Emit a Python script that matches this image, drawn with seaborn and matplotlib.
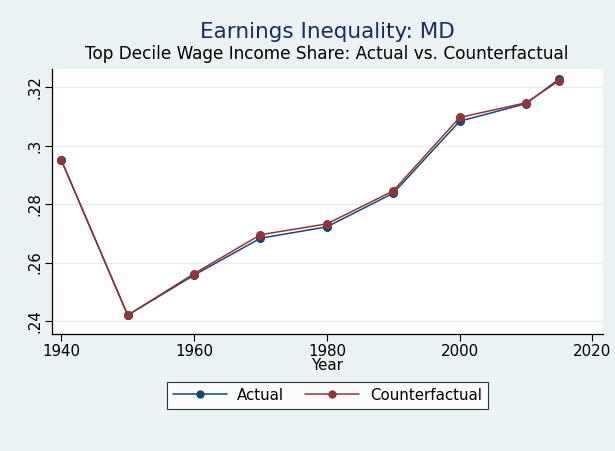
import pandas as pd
import matplotlib.pyplot as plt
import matplotlib.ticker as mticker
import seaborn as sns

# Data
years = [1940, 1950, 1960, 1970, 1980, 1990, 2000, 2010, 2015]
actual = [0.2950, 0.2420, 0.2557, 0.2683, 0.2722, 0.2837, 0.3083, 0.3143, 0.3228]
counterfactual = [0.2950, 0.2420, 0.2562, 0.2695, 0.2732, 0.2845, 0.3096, 0.3146, 0.3222]
series_names = ["Actual", "Counterfactual"]
y_ticks = [0.24, 0.26, 0.28, 0.30, 0.32]
x_ticks = [1940, 1960, 1980, 2000, 2020]

df = pd.DataFrame({
    "Year": years * 2,
    "share": actual + counterfactual,
    "series": [series_names[0]] * len(years) + [series_names[1]] * len(years),
})

bg = "#eaf2f3"
navy = "#1a476f"
maroon = "#90353b"

sns.set_style("white")
plt.rcParams["font.family"] = ["DejaVu Sans"]
plt.rcParams["text.color"] = "black"
plt.rcParams["axes.labelcolor"] = "black"
plt.rcParams["xtick.color"] = "black"
plt.rcParams["ytick.color"] = "black"

fig = plt.figure(figsize=(6.15, 4.51), dpi=100, facecolor=bg)
ax = fig.add_axes([0.0846, 0.259, 0.896, 0.587])
ax.set_facecolor("white")

sns.lineplot(data=df, x="Year", y="share", hue="series", palette=[navy, maroon],
             marker="o", markersize=6.5, markeredgewidth=0, linewidth=1.1,
             ax=ax, legend=False)

ax.set_xlim(1938.6, 2021.6)
ax.set_ylim(0.2355, 0.326)
ax.set_xticks(x_ticks)
ax.set_yticks(y_ticks)
ax.yaxis.set_major_formatter(mticker.FuncFormatter(
    lambda v, p: ("%g" % round(v, 2)).lstrip("0")))
for lab in ax.get_yticklabels():
    lab.set_rotation(90)
    lab.set_va("center")
ax.tick_params(axis="both", direction="out", length=5, width=0.8,
               labelsize=10.8, left=True, bottom=True, pad=2)
ax.grid(axis="y", color="#e6eded", linewidth=0.9)
ax.set_axisbelow(True)
for s in ["top", "right"]:
    ax.spines[s].set_visible(False)
for s in ["left", "bottom"]:
    ax.spines[s].set_color("black")
    ax.spines[s].set_linewidth(0.9)
ax.set_xlabel("Year", fontsize=10.8, labelpad=-1)
ax.set_ylabel("")

fig.text(0.532, 0.93, "Earnings Inequality: MD", ha="center", va="center",
         fontsize=15.5, color="#1a2b5c")
fig.text(0.532, 0.88, "Top Decile Wage Income Share: Actual vs. Counterfactual",
         ha="center", va="center", fontsize=12.2)

handles = [plt.Line2D([], [], color=c, marker="o", markersize=6,
                      markeredgewidth=0, linewidth=1.1) for c in [navy, maroon]]
leg = fig.legend(handles, series_names, loc="center", ncol=2,
                 bbox_to_anchor=(0.532, 0.124), frameon=True, fancybox=False,
                 edgecolor="black", fontsize=10.8, handlelength=3.6,
                 columnspacing=1.4, borderpad=0.4, handletextpad=0.7,
                 borderaxespad=0)
leg.get_frame().set_linewidth(0.8)

fig.savefig("out.png", dpi=100, facecolor=bg)
